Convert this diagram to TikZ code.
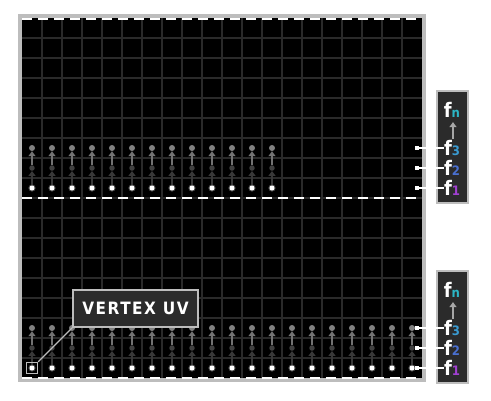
\documentclass[tikz,border=0pt]{standalone}
\usepackage{fontspec}
\setmainfont{DejaVu Sans Condensed}
\newfontfamily\uvfont[LetterSpace=9]{DejaVu Sans Condensed}
\usepackage{tikz}
\usetikzlibrary{arrows.meta,positioning}
\definecolor{framegray}{HTML}{BDBDBD}
\definecolor{gridgray}{HTML}{2A2A2A}
\definecolor{boxgray}{HTML}{2B2B2B}
\definecolor{subn}{HTML}{2BB5C5}
\definecolor{subthree}{HTML}{3A9AD0}
\definecolor{subtwo}{HTML}{4A70D0}
\definecolor{subone}{HTML}{A040D0}

\begin{document}
\begin{tikzpicture}[x=1pt, y=-1pt,
        gridline/.style={draw=gridgray, line width=1.3pt},
        seam/.style={draw=white, line width=2pt, dash pattern=on 10pt off 6pt},
        dotone/.style={circle, inner sep=0pt, minimum size=5pt, fill=white,
            preaction={draw=white, draw opacity=0.3, line width=2pt}},
        dottwo/.style={circle, inner sep=0pt, minimum size=5.5pt, fill=black!75},
        dotthree/.style={circle, inner sep=0pt, minimum size=6pt, fill=black!50},
        arrlow/.style={draw=black!78, line width=1.3pt, -{Triangle[width=7pt,length=5pt]}},
        arrhigh/.style={draw=black!55, line width=1.3pt, -{Triangle[width=7pt,length=5pt]}},
        legend/.style={draw=framegray, line width=2pt, fill=boxgray},
        flab/.style={inner sep=0pt, text=white, font=\bfseries\fontsize{20}{20}\selectfont},
        tick/.style={fill=white, inner sep=0pt, minimum size=4pt},
        leader/.style={draw=white, line width=1.2pt}
    ]
        \useasboundingbox (0,0) rectangle (491,400);

        % 1. The texture frame and grid
        \draw[draw=framegray, line width=4pt, fill=black] (20,16) rectangle (424,380);
        \foreach \x in {42,62,...,402}
            \draw[gridline] (\x,18) -- (\x,378);
        \foreach \y in {38,58,...,358}
            \draw[gridline] (22,\y) -- (422,\y);
        \foreach \y in {18.5,198,377.5}
            \draw[seam] (22,\y) -- (422,\y);

        % 2. Upper strip (13 vertices)
        \foreach \i in {0,...,12} {
            \node[dotone] (ua\i) at (32+20*\i,188) {};
            \node[dottwo] (ub\i) at (32+20*\i,168) {};
            \node[dotthree] (uc\i) at (32+20*\i,148) {};
            \draw[arrlow] (ua\i) -- (ub\i);
            \draw[arrhigh] (ub\i) -- (uc\i);
        }

        % 3. Lower strip (20 vertices)
        \foreach \i in {0,...,19} {
            \node[dotone] (la\i) at (32+20*\i,368) {};
            \node[dottwo] (lb\i) at (32+20*\i,348) {};
            \node[dotthree] (lc\i) at (32+20*\i,328) {};
            \draw[arrlow] (la\i) -- (lb\i);
            \draw[arrhigh] (lb\i) -- (lc\i);
        }

        % 4. Frame legends
        \draw[legend] (437,91) rectangle (468,203);
        \draw[legend] (437,271) rectangle (468,383);
        \foreach \s/\o in {t/0, b/180} {
            \node[flab] (\s fn) at (452,110+\o) {f{\fontsize{13}{13}\selectfont\color{subn}n}};
            \node[flab] (\s f3) at (452,148+\o) {f{\fontsize{13}{13}\selectfont\color{subthree}3}};
            \node[flab] (\s f2) at (452,168+\o) {f{\fontsize{13}{13}\selectfont\color{subtwo}2}};
            \node[flab] (\s f1) at (452,188+\o) {f{\fontsize{13}{13}\selectfont\color{subone}1}};
            \draw[draw=black!35, line width=1.5pt, -{Triangle[width=7pt,length=5pt]}]
                (\s f3.north) ++(1,-1) coordinate (\s base) -- ++(0,-17) coordinate (\s tip);
            \foreach \k in {1,2,3} {
                \node[tick] (\s q\k) at (417,\o+208-20*\k) {};
                \draw[leader] (\s q\k) -- (\s f\k.west);
            }
        }

        % 5. Callout for the vertex UV
        \node[draw=framegray, line width=1.5pt, fill=boxgray, minimum width=125pt,
            minimum height=37pt, text=white, font=\uvfont\bfseries\fontsize{17}{17}\selectfont]
            (uv) at (135.5,308.5) {VERTEX UV};
        \node[draw=framegray, line width=1.5pt, minimum size=11pt, inner sep=0pt] (pick) at (la0) {};
        \draw[draw=framegray, line width=1.2pt] (pick.north east) -- (uv.south west);

    \end{tikzpicture}
\end{document}
